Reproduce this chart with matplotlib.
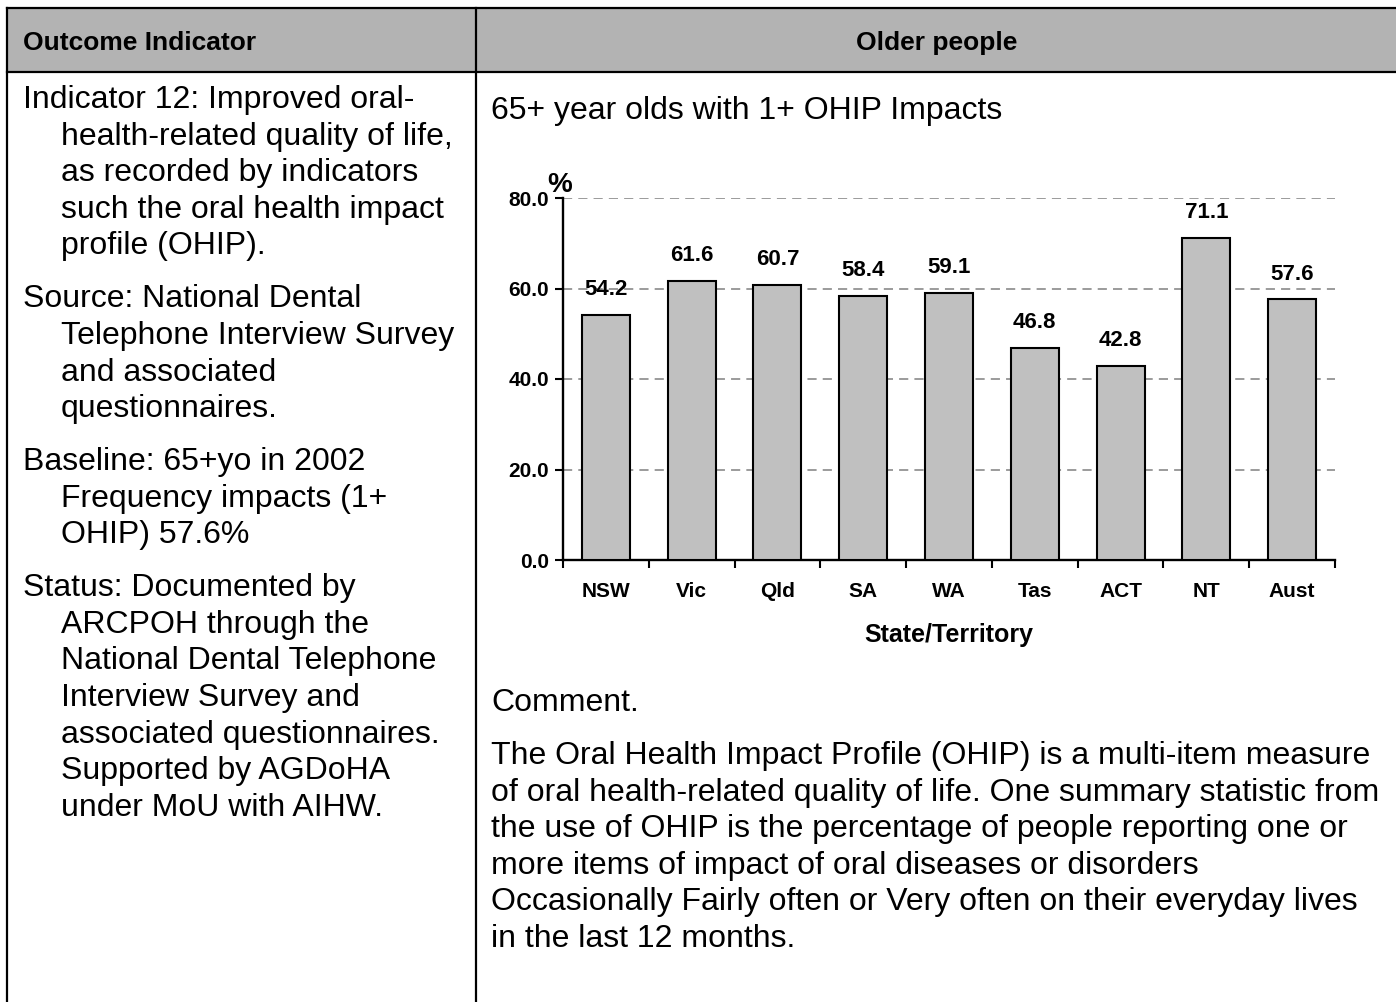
import matplotlib
matplotlib.use("Agg")
import matplotlib.pyplot as plt
from matplotlib.patches import Rectangle

# Chart data
states = ["NSW", "Vic", "Qld", "SA", "WA", "Tas", "ACT", "NT", "Aust"]
impacts = [54.2, 61.6, 60.7, 58.4, 59.1, 46.8, 42.8, 71.1, 57.6]
y_ticks = [0.0, 20.0, 40.0, 60.0, 80.0]

# Table text
header_left = "Outcome Indicator"
header_right = "Older people"
left_paragraphs = [
    ["Indicator 12: Improved oral-", "health-related quality of life,",
     "as recorded by indicators", "such the oral health impact", "profile (OHIP)."],
    ["Source: National Dental", "Telephone Interview Survey",
     "and associated", "questionnaires."],
    ["Baseline: 65+yo in 2002", "Frequency impacts (1+", "OHIP) 57.6%"],
    ["Status: Documented by", "ARCPOH through the", "National Dental Telephone",
     "Interview Survey and", "associated questionnaires.", "Supported by AGDoHA",
     "under MoU with AIHW."],
]
chart_title = "65+ year olds with 1+ OHIP Impacts"
comment_head = "Comment."
comment_lines = [
    "The Oral Health Impact Profile (OHIP) is a multi-item measure",
    "of oral health-related quality of life. One summary statistic from",
    "the use of OHIP is the percentage of people reporting one or",
    "more items of impact of oral diseases or disorders",
    "Occasionally Fairly often or Very often on their everyday lives",
    "in the last 12 months.",
]

plt.rcParams["font.family"] = ["Liberation Sans", "DejaVu Sans"]

W, H = 1396, 1002
fig = plt.figure(figsize=(W / 100, H / 100), dpi=100)

# Background axes in pixel coordinates for the table layout
bg = fig.add_axes([0, 0, 1, 1])
bg.set_xlim(0, W)
bg.set_ylim(H, 0)
bg.axis("off")

bg.add_patch(Rectangle((7, 8), W - 7, 64, facecolor="#b3b3b3", edgecolor="none"))
lw = 1.6
bg.plot([7, W], [8, 8], color="black", lw=lw)
bg.plot([7, W], [72, 72], color="black", lw=lw)
bg.plot([7, 7], [8, H], color="black", lw=lw)
bg.plot([476, 476], [8, H], color="black", lw=lw)

bg.text(23, 43, header_left, fontsize=19, fontweight="bold", va="center", ha="left")
bg.text(937, 43, header_right, fontsize=19, fontweight="bold", va="center", ha="center")

body_fs = 23
step = 36.6
y = 108
for para in left_paragraphs:
    for i, line in enumerate(para):
        bg.text(23 if i == 0 else 61, y, line, fontsize=body_fs, va="baseline", ha="left")
        y += step
    y += 16.3

bg.text(491, 119, chart_title, fontsize=body_fs, va="baseline", ha="left")
bg.text(491, 711, comment_head, fontsize=body_fs, va="baseline", ha="left")
for i, line in enumerate(comment_lines):
    bg.text(491, 764 + i * step, line, fontsize=body_fs, va="baseline", ha="left")

# Bar chart
x0, x1, ytop, ybot = 563, 1335, 198, 560
ax = fig.add_axes([x0 / W, 1 - ybot / H, (x1 - x0) / W, (ybot - ytop) / H])
xs = range(len(states))
ax.bar(xs, impacts, width=0.56, color="#c0c0c0", edgecolor="black", linewidth=1.5, zorder=3)
for i, v in enumerate(impacts):
    ax.text(i, v + 5.6, f"{v:.1f}", ha="center", va="center",
            fontsize=16, fontweight="bold", zorder=4)

ax.set_xlim(-0.5, len(states) - 0.5)
ax.set_ylim(0, 80)
ax.set_yticks(y_ticks)
ax.set_yticklabels([f"{t:.1f}" for t in y_ticks], fontsize=15, fontweight="bold")
ax.set_xticks(list(xs))
ax.set_xticklabels(states, fontsize=15, fontweight="bold")
ax.set_xticks([i - 0.5 for i in range(len(states) + 1)], minor=True)
ax.tick_params(axis="x", which="major", length=0, pad=16)
ax.tick_params(axis="x", which="minor", length=6, width=1.5, direction="out")
ax.tick_params(axis="y", length=6, width=1.5, direction="out", pad=4)

for t in y_ticks[1:]:
    ax.axhline(t, color="#808080", lw=1.1, ls=(0, (6, 4)), zorder=1)

for s in ["top", "right"]:
    ax.spines[s].set_visible(False)
ax.spines["left"].set_linewidth(1.7)
ax.spines["bottom"].set_linewidth(1.7)
ax.set_facecolor("none")
ax.set_xlabel("State/Territory", fontsize=18, fontweight="bold", labelpad=16)
ax.text(-0.004, 1.0, "%", transform=ax.transAxes, fontsize=20, fontweight="bold",
        ha="center", va="bottom")

fig.savefig("out.png", dpi=100)
